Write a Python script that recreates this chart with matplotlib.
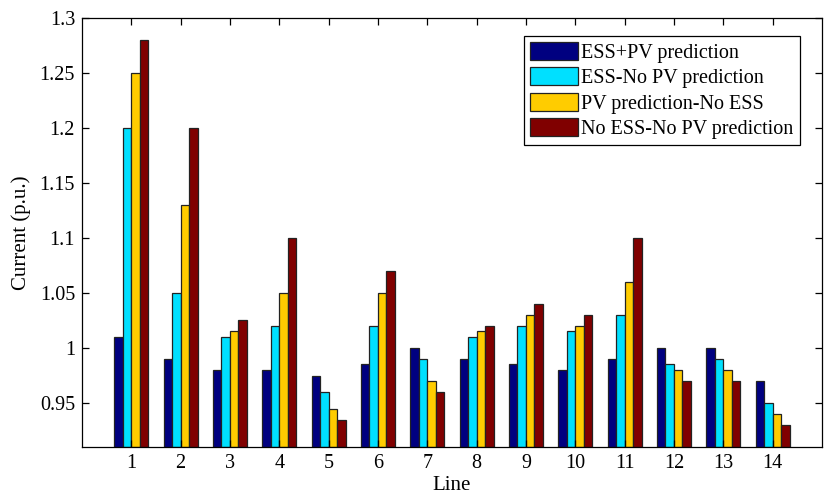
import numpy as np
import matplotlib.pyplot as plt

lines = np.arange(1, 15)
ess_pv = [1.01, 0.99, 0.98, 0.98, 0.975, 0.985, 1.0, 0.99, 0.985, 0.98, 0.99, 1.0, 1.0, 0.97]
ess_nopv = [1.2, 1.05, 1.01, 1.02, 0.96, 1.02, 0.99, 1.01, 1.02, 1.015, 1.03, 0.985, 0.99, 0.95]
pv_noess = [1.25, 1.13, 1.015, 1.05, 0.945, 1.05, 0.97, 1.015, 1.03, 1.02, 1.06, 0.98, 0.98, 0.94]
noess_nopv = [1.28, 1.2, 1.025, 1.1, 0.935, 1.07, 0.96, 1.02, 1.04, 1.03, 1.1, 0.97, 0.97, 0.93]
labels = ["ESS+PV prediction", "ESS-No PV prediction", "PV prediction-No ESS", "No ESS-No PV prediction"]
colors = ["#000080", "#00E0FF", "#FFCC00", "#800000"]

plt.rcParams.update({
    "font.family": ["Liberation Serif", "DejaVu Serif"],
    "font.size": 14,
    "xtick.direction": "in",
    "ytick.direction": "in",
})

fig = plt.figure(figsize=(8.24, 4.97), dpi=100)
ax = fig.add_axes([0.0995, 0.1006, 0.898, 0.8632])

width = 0.172
series = [ess_pv, ess_nopv, pv_noess, noess_nopv]
for k, vals in enumerate(series):
    offs = (k - 1.5) * width
    ax.bar(lines + offs, np.array(vals) - 0.91, width, bottom=0.91, color=colors[k],
           edgecolor="#222222", linewidth=0.9, label=labels[k])

ax.set_xlim(0, 15)
ax.set_ylim(0.91, 1.3)
ax.set_xticks(lines)
ax.set_yticks([0.95, 1.0, 1.05, 1.1, 1.15, 1.2, 1.25, 1.3])
ax.set_yticklabels(["0.95", "1", "1.05", "1.1", "1.15", "1.2", "1.25", "1.3"])
ax.tick_params(top=True, right=True, length=5, width=0.9, labelsize=14.5, pad=5)
for s in ax.spines.values():
    s.set_linewidth(0.9)
ax.set_xlabel("Line", fontsize=15, labelpad=2)
ax.set_ylabel("Current (p.u.)", fontsize=15, labelpad=6)

leg = ax.legend(loc="upper right", bbox_to_anchor=(0.97, 0.958), fancybox=False,
                edgecolor="black", framealpha=1, fontsize=14.5, handlelength=2.4,
                handleheight=1.0, labelspacing=0.22, borderpad=0.3, handletextpad=0.15,
                borderaxespad=0)
leg.get_frame().set_linewidth(0.9)

fig.savefig("out.png", dpi=100)
